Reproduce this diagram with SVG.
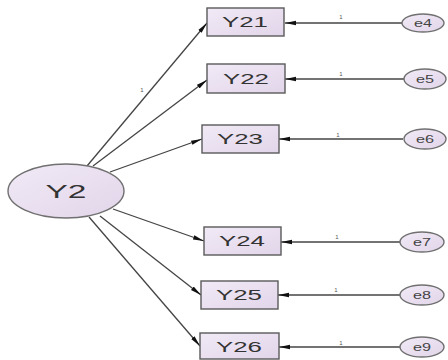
<svg xmlns="http://www.w3.org/2000/svg" width="448" height="360" viewBox="0 0 448 360">
<defs>
<linearGradient id="g" x1="0" y1="0" x2="1" y2="1">
<stop offset="0" stop-color="#f1eaf6"/><stop offset="1" stop-color="#e2d5ea"/>
</linearGradient>
<marker id="ah" viewBox="0 0 12 6" refX="12" refY="3" markerWidth="11" markerHeight="6" markerUnits="userSpaceOnUse" orient="auto">
<path d="M0,0.6 L12,3 L0,5.4 Z" fill="#111"/>
</marker>
<style>
.box{fill:url(#g);stroke:#5a5a5a;stroke-width:1.4}
.ell{fill:url(#g);stroke:#707070;stroke-width:1.4}
.t{font-family:"Liberation Sans",Arial,sans-serif;font-size:14px;fill:#333;text-anchor:middle}
.te{font-family:"Liberation Sans",Arial,sans-serif;font-size:10px;fill:#444;text-anchor:middle}
.big{font-family:"Liberation Sans",Arial,sans-serif;font-size:18px;fill:#333;text-anchor:middle}
.c{stroke:#444;stroke-width:1.3;fill:none;marker-end:url(#ah)}
.one{font-family:"Liberation Sans",Arial,sans-serif;font-size:6px;fill:#555;text-anchor:middle}
</style>
</defs>
<rect width="448" height="360" fill="#fff"/>
<g id="connectors">
<line class="c" x1="87" y1="166" x2="207" y2="23"/>
<line class="c" x1="93" y1="166" x2="207" y2="80"/>
<line class="c" x1="110" y1="172" x2="202" y2="139"/>
<line class="c" x1="113" y1="209" x2="204" y2="241"/>
<line class="c" x1="100" y1="216" x2="201" y2="295"/>
<line class="c" x1="89" y1="217" x2="200" y2="346"/>
<line class="c" x1="402" y1="23" x2="285" y2="23"/>
<line class="c" x1="404" y1="79" x2="285" y2="79"/>
<line class="c" x1="403" y1="139" x2="279" y2="139"/>
<line class="c" x1="400" y1="242" x2="281" y2="242"/>
<line class="c" x1="400" y1="295" x2="278" y2="295"/>
<line class="c" x1="400" y1="347" x2="279" y2="347"/>
<text class="one" x="142" y="92">1</text>
<text class="one" x="341" y="19">1</text>
<text class="one" x="341" y="76">1</text>
<text class="one" x="338" y="137">1</text>
<text class="one" x="337" y="239">1</text>
<text class="one" x="336" y="292">1</text>
<text class="one" x="341" y="345">1</text>
</g>
<g id="Y2"><ellipse class="ell" cx="66" cy="191" rx="58" ry="27"/><text class="big" x="66" y="198" textLength="41" lengthAdjust="spacingAndGlyphs">Y2</text></g>
<g id="Y21"><rect class="box" x="207" y="8" width="77" height="28"/><text class="t" x="245" y="27" textLength="46" lengthAdjust="spacingAndGlyphs">Y21</text></g>
<g id="Y22"><rect class="box" x="207" y="64" width="78" height="29"/><text class="t" x="246" y="84" textLength="46" lengthAdjust="spacingAndGlyphs">Y22</text></g>
<g id="Y23"><rect class="box" x="202" y="125" width="77" height="28"/><text class="t" x="240" y="144" textLength="46" lengthAdjust="spacingAndGlyphs">Y23</text></g>
<g id="Y24"><rect class="box" x="204" y="227" width="77" height="28"/><text class="t" x="242" y="246" textLength="46" lengthAdjust="spacingAndGlyphs">Y24</text></g>
<g id="Y25"><rect class="box" x="201" y="281" width="77" height="28"/><text class="t" x="239" y="300" textLength="46" lengthAdjust="spacingAndGlyphs">Y25</text></g>
<g id="Y26"><rect class="box" x="200" y="333" width="79" height="26"/><text class="t" x="239" y="352" textLength="46" lengthAdjust="spacingAndGlyphs">Y26</text></g>
<g id="e4"><ellipse class="ell" cx="423" cy="23" rx="21" ry="9"/><text class="te" x="423" y="27" textLength="18" lengthAdjust="spacingAndGlyphs">e4</text></g>
<g id="e5"><ellipse class="ell" cx="425" cy="79" rx="21" ry="10"/><text class="te" x="425" y="83" textLength="18" lengthAdjust="spacingAndGlyphs">e5</text></g>
<g id="e6"><ellipse class="ell" cx="425" cy="139" rx="21" ry="10"/><text class="te" x="425" y="143" textLength="18" lengthAdjust="spacingAndGlyphs">e6</text></g>
<g id="e7"><ellipse class="ell" cx="422" cy="242" rx="22" ry="10"/><text class="te" x="422" y="246" textLength="18" lengthAdjust="spacingAndGlyphs">e7</text></g>
<g id="e8"><ellipse class="ell" cx="422" cy="295" rx="22" ry="10"/><text class="te" x="422" y="299" textLength="18" lengthAdjust="spacingAndGlyphs">e8</text></g>
<g id="e9"><ellipse class="ell" cx="422" cy="347" rx="22" ry="10"/><text class="te" x="422" y="351" textLength="18" lengthAdjust="spacingAndGlyphs">e9</text></g>
</svg>
